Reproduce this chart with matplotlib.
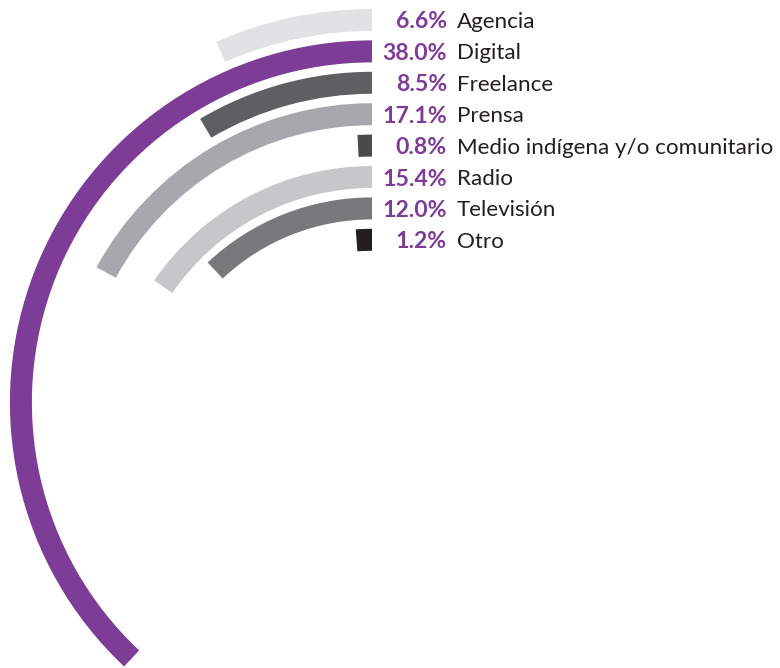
import matplotlib
matplotlib.use('Agg')
import matplotlib.pyplot as plt
from matplotlib.patches import Wedge

plt.rcParams['font.family'] = ['Lato', 'DejaVu Sans']

# 数据
categories = ['Agencia', 'Digital', 'Freelance', 'Prensa',
              'Medio indígena y/o comunitario', 'Radio', 'Televisión', 'Otro']
values = [6.6, 38.0, 8.5, 17.1, 0.8, 15.4, 12.0, 1.2]
colors = ['#e1e2e3', '#7d3c95', '#5f5f61', '#a7a8ab',
          '#4b4b4d', '#c6c7c9', '#78797b', '#231f20']
purple = '#7d3c95'

W, H = 780, 668
fig = plt.figure(figsize=(W / 100, H / 100), dpi=100)
ax = fig.add_axes([0, 0, 1, 1])
ax.set_xlim(0, W)
ax.set_ylim(0, H)
ax.set_aspect('equal')
ax.axis('off')

# 每个环的圆心略微下移（原图各环并非同心）
x0 = 372
top0, top_step = H - 20, 31.4     # 各环顶部中线的位置
r0, r_step = 375.5, 24.4          # 各环中线半径
thick = 22

for i, (v, c, name) in enumerate(zip(values, colors, categories)):
    top = top0 - top_step * i
    r = r0 - r_step * i
    center = (x0, top - r)
    ax.add_patch(Wedge(center, r + thick / 2, 90, 90 + v * 3.6,
                       width=thick, facecolor=c, edgecolor='none'))
    ax.text(x0 + 75, top, f'{v:.1f}%', ha='right', va='center_baseline',
            fontsize=16.6, fontweight='bold', color=purple)
    ax.text(x0 + 85, top, name, ha='left', va='center_baseline',
            fontsize=16.1, color='#231f20')

fig.savefig('out.png', dpi=100)
